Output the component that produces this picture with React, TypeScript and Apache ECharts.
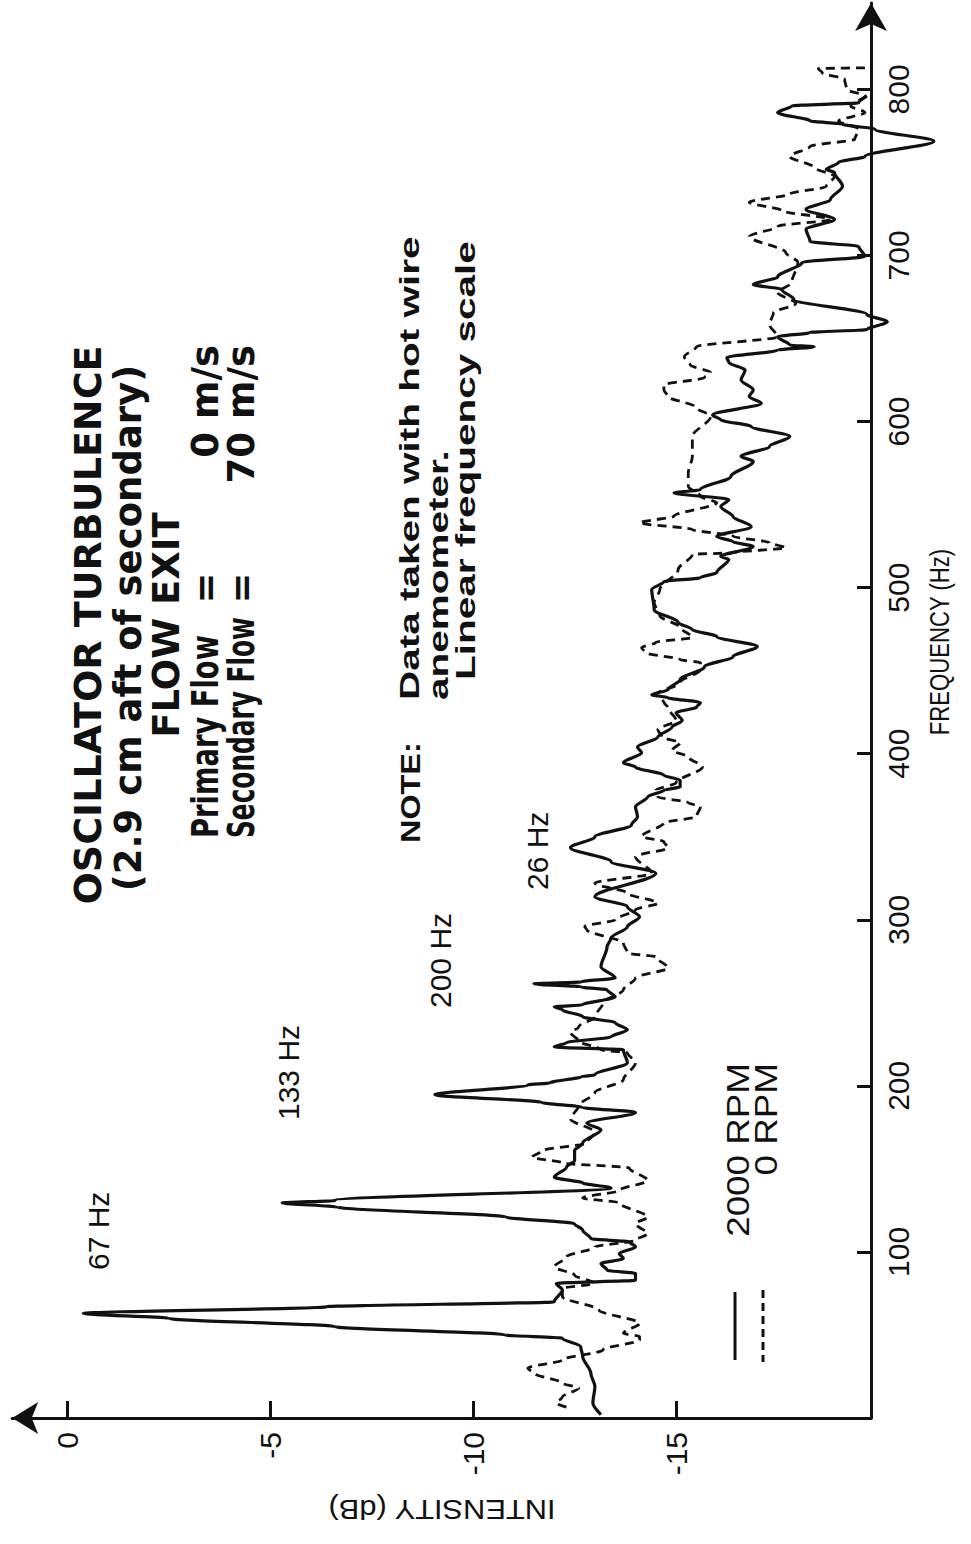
import React, { useEffect, useRef } from 'react';
import * as echarts from 'echarts';

// Axis ticks
const freqTicks = [100, 200, 300, 400, 500, 600, 700, 800];
const dbTicks = [0, -5, -10, -15];

// Series names
const seriesNames = ['2000 RPM', '0 RPM'];

// 2000 RPM (solid) : frequency (Hz) and intensity (dB)
const rpm2000Freq = [2, 9, 19, 27, 37, 43, 48, 50, 55, 60, 63, 67, 70, 77, 81, 83, 87, 89, 93, 96, 99, 103, 106, 108, 113, 117, 121, 127, 129.5, 131, 138.5, 141.5, 145, 151, 155, 161, 165.6, 173.5, 177.6, 184, 187, 190, 194.6, 200.6, 201.8, 205.5, 206.6, 213.9, 221.7, 223.5, 226, 229.5, 233.7, 238, 241.6, 245.8, 247.6, 248.8, 253.6, 257.8, 259.6, 261.4, 262.6, 265, 271.7, 283.7, 289, 295.8, 301.8, 307.8, 313.9, 328, 335, 343.4, 350, 357, 362, 368, 374, 378, 380, 384, 387, 392, 394.6, 400.6, 404, 410, 416, 420, 424.6, 428, 430.7, 433.7, 435.5, 438.5, 444.6, 452.4, 458.4, 464.5, 470.5, 474.7, 479, 486.7, 498.8, 503.6, 506, 509, 517, 518.7, 524.7, 527.7, 530.7, 536.7, 542.8, 548.8, 553, 557, 559, 566.9, 576, 579, 585, 591, 597, 601, 604, 611, 615, 619, 625, 631, 635.5, 638.5, 643, 645, 646, 651, 653.6, 655.4, 660, 664.5, 673.5, 679.5, 682.5, 687, 695.8, 699.4, 705.4, 708.4, 715.7, 721.7, 727.7, 733.7, 741.6, 750, 751.8, 756, 759.6, 768.7, 776, 779, 781, 786, 790, 792, 796];
const rpm2000Db = [-13.15, -12.95, -13.0, -12.9, -12.7, -12.65, -12.2, -10.8, -6.6, -2.5, -0.4, -6.4, -12.0, -12.2, -12.05, -14.0, -14.0, -13.3, -13.15, -13.7, -13.6, -14.0, -13.85, -12.9, -12.7, -12.5, -10.8, -6.65, -5.3, -6.6, -13.4, -12.7, -12.0, -12.3, -12.5, -12.5, -12.7, -13.15, -12.8, -14.0, -12.7, -11.7, -9.06, -11.35, -11.9, -12.66, -13.0, -13.8, -13.7, -12.0, -12.3, -13.4, -13.8, -13.5, -12.7, -12.2, -12.0, -12.7, -13.5, -13.3, -12.66, -11.5, -12.66, -13.5, -13.15, -13.3, -13.4, -13.8, -14.1, -13.8, -13.0, -14.5, -13.4, -12.4, -13.0, -13.9, -14.05, -14.0, -14.3, -14.7, -15.1, -15.1, -14.7, -14.0, -13.7, -14.15, -14.05, -14.55, -14.9, -15.15, -15.0, -15.5, -15.6, -14.8, -14.4, -14.8, -15.1, -15.7, -16.4, -17.0, -16.0, -15.4, -15.05, -14.46, -14.4, -14.7, -15.6, -16.0, -16.3, -16.1, -16.9, -16.4, -16.0, -16.85, -16.4, -16.1, -16.3, -14.95, -15.6, -16.35, -16.9, -16.6, -17.3, -17.8, -16.85, -16.1, -15.9, -17.1, -16.8, -16.9, -16.6, -16.7, -16.3, -16.25, -17.5, -18.4, -17.8, -17.5, -18.3, -19.7, -20.2, -19.7, -17.9, -17.6, -16.9, -17.5, -18.1, -19.65, -19.5, -18.3, -18.2, -18.9, -18.2, -18.8, -19.1, -18.9, -18.7, -19.0, -19.65, -21.35, -19.9, -19.1, -18.3, -17.5, -17.85, -19.5, -19.7];

// 0 RPM (dashed)
const rpm0Freq = [6.6, 9, 12.6, 18, 21, 27, 30, 35, 41, 47, 49, 51, 57, 65, 73, 78, 81, 86, 91, 97, 103, 107, 111, 117, 121, 129.5, 132.5, 137, 143, 150.6, 153.6, 157, 161, 165.6, 172, 180, 188, 196, 203.6, 213.9, 219.9, 221.7, 227, 232, 235.5, 241.6, 250, 257.8, 265, 271, 277.7, 280, 286, 294, 296, 300, 306, 310, 316, 322, 328, 338, 343.4, 347, 350, 358.4, 362, 368, 370.5, 374, 378, 382.5, 392, 398, 402, 406.6, 410, 414.5, 420, 427.7, 431, 435.5, 442.8, 450.6, 454.8, 456.6, 460.8, 463.8, 467, 470, 476, 483, 491, 498.8, 510.8, 520, 521, 524, 527, 531, 535, 539, 543, 551, 555, 561, 569, 579, 591, 603, 609, 615, 619, 622, 626.5, 629.5, 634, 639, 645, 651, 658.4, 665.6, 671, 677.7, 683.7, 695.8, 701.8, 711.4, 717.5, 721.7, 727, 732, 737, 741.6, 747.6, 753, 759.6, 765.7, 770, 776, 781, 786, 790, 796, 800, 806, 810, 812.5, 813];
const rpm0Db = [-12.3, -12.05, -12.2, -12.6, -12.2, -11.5, -11.35, -12.2, -13.2, -14.1, -14.1, -13.7, -14.1, -13.1, -12.2, -12.2, -13.0, -12.5, -12.0, -12.3, -13.0, -14.0, -14.3, -14.0, -14.3, -13.6, -12.7, -13.6, -14.3, -13.85, -12.2, -11.45, -11.7, -12.8, -13.0, -12.4, -12.6, -13.0, -13.7, -14.0, -13.8, -13.15, -12.6, -12.4, -12.6, -13.0, -13.2, -13.7, -14.0, -14.8, -14.5, -13.8, -13.7, -12.8, -12.75, -13.5, -14.0, -14.55, -13.8, -13.0, -14.4, -14.0, -14.8, -14.7, -14.15, -14.7, -15.5, -15.6, -15.3, -14.55, -14.5, -15.0, -15.65, -15.3, -14.9, -15.1, -14.65, -14.55, -15.0, -14.8, -14.7, -14.5, -15.1, -15.6, -15.6, -15.1, -14.25, -14.15, -14.5, -15.4, -15.1, -14.6, -14.46, -14.6, -15.05, -15.4, -16.4, -17.7, -17.3, -16.4, -15.4, -14.1, -14.95, -16.0, -15.6, -15.3, -15.3, -15.4, -15.4, -15.85, -15.45, -14.8, -14.7, -14.7, -15.7, -15.85, -15.35, -15.2, -15.5, -17.5, -17.3, -17.4, -17.95, -17.5, -17.85, -18.0, -17.7, -16.8, -17.5, -18.8, -17.6, -16.8, -17.8, -18.7, -18.9, -18.4, -17.8, -18.3, -19.4, -19.5, -19.0, -19.65, -19.3, -19.65, -19.2, -19.15, -18.6, -18.5, -19.8];

// Peak annotations
const peakLabels = ['67 Hz', '133 Hz', '200 Hz', '26 Hz'];

const INK = '#111';
const TITLE_FONT = '"DejaVu Sans", "Liberation Sans", sans-serif';
const LABEL_FONT = '"Liberation Sans", Arial, sans-serif';

// Shared axis ranges (visible frame and the plotting frame share the same px/unit)
const DB_MAX = 1.35;
const DB_AXIS_MIN = -19.8;
const DB_PLOT_MIN = -21.6;
const FREQ_MAX = 852;
const GRID_LEFT = 12.2;
const GRID_RIGHT = 100;
const GRID_TOP = 3;
const GRID_BOTTOM = 126;
const CHART_W = 971;

function vtext(text: string, x: number, y: number, size: number, align: string, opts: any = {}) {
  return {
    type: 'text',
    x,
    y,
    rotation: opts.rotation ?? Math.PI / 2,
    scaleX: opts.scaleX ?? 1,
    scaleY: opts.scaleY ?? 1,
    z: 10,
    silent: true,
    style: {
      text,
      fontSize: size,
      fontFamily: opts.fontFamily ?? LABEL_FONT,
      fontWeight: opts.fontWeight ?? 'normal',
      fill: INK,
      align,
      verticalAlign: 'middle',
    },
  };
}

export default function App() {
  const ref = useRef<HTMLDivElement>(null);

  useEffect(() => {
    if (!ref.current) return;
    const chart = echarts.init(ref.current, null, { renderer: 'svg' });

    const solid = rpm2000Freq.map((f, i) => [rpm2000Db[i], f]);
    const dashed = rpm0Freq.map((f, i) => [rpm0Db[i], f]);

    // plotting grid: same scale as the visible frame but wider so that
    // spikes crossing the frequency axis are not clipped
    const axisWidth = CHART_W - GRID_LEFT - GRID_RIGHT;
    const pxPerDb = axisWidth / (DB_MAX - DB_AXIS_MIN);
    const plotWidth = pxPerDb * (DB_MAX - DB_PLOT_MIN);
    const plotRight = CHART_W - GRID_LEFT - plotWidth;

    const bold = { fontFamily: TITLE_FONT, fontWeight: 'bold' };
    const graphics: any[] = [
      // Title block
      vtext('OSCILLATOR TURBULENCE', 88, 625, 38, 'center', bold),
      vtext('(2.9 cm aft of secondary)', 128, 628, 37, 'center', bold),
      vtext('FLOW EXIT', 166, 625, 37, 'center', bold),
      vtext('Primary Flow', 205, 838, 37, 'left', { ...bold, scaleX: 0.74 }),
      vtext('=', 205, 588, 37, 'center', bold),
      vtext('0 m/s', 205, 345, 37, 'right', bold),
      vtext('Secondary Flow', 241, 838, 37, 'left', { ...bold, scaleX: 0.67 }),
      vtext('=', 241, 588, 37, 'center', bold),
      vtext('70 m/s', 241, 345, 37, 'right', bold),
      // Note
      vtext('NOTE:', 410, 843, 27, 'left', { fontWeight: 'bold', scaleX: 1.2 }),
      vtext('Data taken with hot wire', 410, 700, 27, 'left', { fontWeight: 'bold', scaleX: 1.5 }),
      vtext('anemometer.', 439, 700, 27, 'left', { fontWeight: 'bold', scaleX: 1.5 }),
      vtext('Linear frequency scale', 466, 680, 27, 'left', { fontWeight: 'bold', scaleX: 1.5 }),
      // Peak annotations
      vtext(peakLabels[0], 98, 1270, 30, 'left'),
      vtext(peakLabels[1], 288, 1120, 30, 'left'),
      vtext(peakLabels[2], 440, 1008, 30, 'left'),
      vtext(peakLabels[3], 537, 890, 30, 'left'),
      // Legend
      {
        type: 'line', silent: true, z: 10,
        shape: { x1: 735, y1: 1292, x2: 735, y2: 1360 },
        style: { stroke: INK, lineWidth: 3 },
      },
      {
        type: 'line', silent: true, z: 10,
        shape: { x1: 763, y1: 1290, x2: 763, y2: 1362 },
        style: { stroke: INK, lineWidth: 3, lineDash: [8, 5] },
      },
      vtext(seriesNames[0], 738, 1063, 32, 'right', { scaleX: 1.15 }),
      vtext(seriesNames[1], 766, 1063, 32, 'right', { scaleX: 1.15 }),
      // Axis titles
      vtext('FREQUENCY (Hz)', 940, 642, 27, 'center', { scaleX: 0.82 }),
      vtext('INTENSITY (dB)', 442, 1510, 28, 'center', { rotation: Math.PI, scaleX: 1.1 }),
    ];

    const option: any = {
      animation: false,
      backgroundColor: '#fff',
      grid: [
        {
          left: GRID_LEFT, right: GRID_RIGHT, top: GRID_TOP, bottom: GRID_BOTTOM,
          containLabel: false, outerBoundsMode: 'none',
        },
        {
          left: GRID_LEFT, right: plotRight, top: GRID_TOP, bottom: GRID_BOTTOM,
          containLabel: false, outerBoundsMode: 'none',
        },
      ],
      xAxis: [
        {
          gridIndex: 0,
          type: 'value',
          inverse: true,
          min: DB_AXIS_MIN,
          max: DB_MAX,
          splitLine: { show: false },
          axisLine: {
            onZero: false,
            symbol: ['arrow', 'none'],
            symbolSize: [24, 26],
            lineStyle: { color: INK, width: 3 },
          },
          axisTick: {
            inside: true,
            length: 17,
            customValues: dbTicks,
            lineStyle: { color: INK, width: 3 },
          },
          axisLabel: {
            customValues: dbTicks,
            rotate: 90,
            margin: 14,
            color: INK,
            fontSize: 30,
            fontFamily: LABEL_FONT,
            formatter: (v: number) => String(v),
          },
        },
        {
          gridIndex: 1,
          type: 'value',
          inverse: true,
          min: DB_PLOT_MIN,
          max: DB_MAX,
          show: false,
          splitLine: { show: false },
        },
      ],
      yAxis: [
        {
          gridIndex: 0,
          type: 'value',
          position: 'right',
          min: 0,
          max: FREQ_MAX,
          splitLine: { show: false },
          axisLine: {
            onZero: false,
            symbol: ['none', 'arrow'],
            symbolSize: [24, 28],
            lineStyle: { color: INK, width: 3 },
          },
          axisTick: {
            inside: true,
            length: 14,
            customValues: freqTicks,
            lineStyle: { color: INK, width: 3 },
          },
          axisLabel: {
            customValues: freqTicks,
            rotate: 90,
            margin: 12,
            color: INK,
            fontSize: 30,
            fontFamily: LABEL_FONT,
          },
        },
        {
          gridIndex: 1,
          type: 'value',
          min: 0,
          max: FREQ_MAX,
          show: false,
          splitLine: { show: false },
        },
      ],
      graphic: { elements: graphics },
      series: [
        {
          name: seriesNames[0],
          type: 'line',
          xAxisIndex: 1,
          yAxisIndex: 1,
          data: solid,
          showSymbol: false,
          smooth: 0.3,
          smoothMonotone: 'y',
          lineStyle: { color: INK, width: 3.2 },
          z: 3,
        },
        {
          name: seriesNames[1],
          type: 'line',
          xAxisIndex: 1,
          yAxisIndex: 1,
          data: dashed,
          showSymbol: false,
          smooth: 0.3,
          smoothMonotone: 'y',
          lineStyle: { color: INK, width: 2.8, type: [9, 6] },
          z: 2,
        },
      ],
    };

    chart.setOption(option);
    return () => chart.dispose();
  }, []);

  return (
    <div
      ref={ref}
      style={{ position: 'absolute', left: 0, top: 0, width: 971, height: 1544, background: '#fff' }}
    />
  );
}
